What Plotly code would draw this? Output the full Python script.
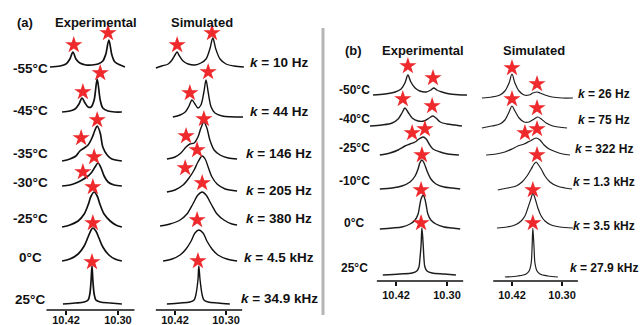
import plotly.graph_objects as go

FONT = "Liberation Sans, Arial, sans-serif"
W, H = 640, 325

# ---------------- data (chemical shift in ppm, intensity) ----------------
# Panel (a) experimental
a_temps = ["-55°C", "-45°C", "-35°C", "-30°C", "-25°C", "0°C", "25°C"]
a_rates = ["10 Hz", "44 Hz", "146 Hz", "205 Hz", "380 Hz", "4.5 kHz", "34.9 kHz"]

a_exp_ppm = [
    [10.457, 10.434, 10.420, 10.411, 10.404, 10.397, 10.388, 10.374, 10.360, 10.346, 10.335, 10.328, 10.321, 10.314, 10.307, 10.295, 10.284],
    [10.429, 10.411, 10.399, 10.390, 10.383, 10.376, 10.369, 10.362, 10.355, 10.348, 10.341, 10.335, 10.323, 10.307, 10.291],
    [10.429, 10.411, 10.397, 10.388, 10.378, 10.369, 10.360, 10.353, 10.348, 10.341, 10.335, 10.325, 10.314, 10.291],
    [10.429, 10.411, 10.397, 10.383, 10.372, 10.362, 10.353, 10.346, 10.339, 10.332, 10.323, 10.309, 10.291],
    [10.429, 10.411, 10.392, 10.378, 10.369, 10.362, 10.355, 10.348, 10.341, 10.332, 10.318, 10.305, 10.291],
    [10.429, 10.411, 10.392, 10.378, 10.369, 10.362, 10.358, 10.351, 10.344, 10.335, 10.321, 10.307, 10.291],
    [10.427, 10.399, 10.378, 10.369, 10.365, 10.362, 10.360, 10.358, 10.355, 10.351, 10.341, 10.318, 10.291],
]
a_exp_int = [
    [0, 1, 3, 8, 15, 8, 4, 2, 2, 3, 6, 13, 27, 12, 5, 2, 0],
    [0, 1, 3, 8, 14, 9, 5, 5, 12, 33, 12, 4, 1, 0, 0],
    [0, 2, 5, 10, 13, 16, 23, 31, 35, 28, 14, 6, 2, 0],
    [0, 1, 3, 6, 9, 13, 19, 23, 18, 10, 4, 1, 0],
    [0, 2, 6, 13, 22, 31, 35, 31, 22, 13, 6, 2, 0],
    [1, 3, 8, 16, 25, 32, 34, 31, 24, 15, 7, 3, 1],
    [0, 1, 2, 4, 10, 24, 38, 24, 10, 4, 2, 1, 0],
]
a_exp_star_ppm = [[10.402, 10.323], [10.381, 10.341], [10.385, 10.348], [10.381, 10.355], [10.358], [10.358], [10.360]]
a_exp_star_int = [[22, 34], [20, 39], [23, 41], [14, 29], [40], [39], [42]]

# Panel (a) simulated
a_sim_ppm = [
    [10.465, 10.451, 10.436, 10.427, 10.420, 10.415, 10.411, 10.401, 10.389, 10.373, 10.359, 10.347, 10.338, 10.331, 10.324, 10.314, 10.300, 10.281, 10.258],
    [10.425, 10.408, 10.396, 10.387, 10.380, 10.373, 10.366, 10.359, 10.352, 10.347, 10.342, 10.335, 10.326, 10.309, 10.260],
    [10.439, 10.420, 10.406, 10.394, 10.385, 10.375, 10.366, 10.359, 10.352, 10.345, 10.338, 10.328, 10.314, 10.295, 10.274],
    [10.439, 10.420, 10.401, 10.387, 10.375, 10.366, 10.356, 10.349, 10.342, 10.333, 10.321, 10.302, 10.274],
    [10.455, 10.432, 10.408, 10.392, 10.378, 10.366, 10.356, 10.347, 10.335, 10.321, 10.305, 10.286, 10.274],
    [10.448, 10.427, 10.408, 10.394, 10.382, 10.373, 10.364, 10.354, 10.345, 10.333, 10.319, 10.298, 10.274],
    [10.439, 10.408, 10.385, 10.375, 10.371, 10.366, 10.364, 10.361, 10.356, 10.352, 10.342, 10.319, 10.291],
]
a_sim_int = [
    [0, 2, 4, 8, 13, 16, 13, 7, 4, 3, 5, 9, 19, 30, 19, 9, 4, 2, 1],
    [0, 2, 5, 11, 17, 13, 9, 12, 25, 37, 25, 10, 4, 1, 0],
    [1, 3, 7, 13, 16, 17, 23, 32, 38, 32, 20, 10, 5, 2, 1],
    [0, 2, 7, 14, 22, 30, 36, 33, 25, 15, 8, 3, 1],
    [0, 2, 6, 12, 22, 31, 34, 31, 22, 12, 6, 2, 1],
    [1, 3, 7, 13, 21, 29, 32, 29, 21, 13, 7, 3, 1],
    [0, 1, 2, 4, 9, 24, 38, 24, 9, 4, 2, 1, 0],
]
a_sim_star_ppm = [[10.415, 10.333], [10.385, 10.342], [10.394, 10.352], [10.396, 10.368], [10.356], [10.368], [10.366]]
a_sim_star_int = [[23, 35], [24, 45], [24, 41], [24, 42], [43], [42], [43]]

# Panel (b) experimental
b_temps = ["-50°C", "-40°C", "-25°C", "-10°C", "0°C", "25°C"]
b_rates = ["26 Hz", "75 Hz", "322 Hz", "1.3 kHz", "3.5 kHz", "27.9 kHz"]

b_exp_ppm = [
    [10.474, 10.446, 10.422, 10.408, 10.399, 10.392, 10.385, 10.375, 10.364, 10.349, 10.338, 10.331, 10.324, 10.312, 10.293, 10.265, 10.253],
    [10.481, 10.453, 10.429, 10.415, 10.406, 10.399, 10.392, 10.382, 10.368, 10.354, 10.342, 10.333, 10.326, 10.316, 10.300, 10.281, 10.265],
    [10.458, 10.434, 10.415, 10.399, 10.387, 10.375, 10.366, 10.356, 10.349, 10.342, 10.333, 10.316, 10.298, 10.272],
    [10.458, 10.429, 10.406, 10.387, 10.375, 10.368, 10.364, 10.359, 10.354, 10.347, 10.338, 10.326, 10.307, 10.288, 10.269],
    [10.458, 10.429, 10.406, 10.387, 10.375, 10.368, 10.364, 10.361, 10.356, 10.352, 10.349, 10.345, 10.338, 10.326, 10.307, 10.288, 10.269],
    [10.451, 10.411, 10.382, 10.371, 10.366, 10.364, 10.361, 10.359, 10.356, 10.354, 10.352, 10.347, 10.335, 10.307, 10.279],
]
b_exp_int = [
    [0, 1, 3, 6, 12, 20, 13, 7, 4, 3, 5, 7, 5, 3, 1, 0, 0],
    [0, 1, 3, 7, 13, 18, 14, 8, 5, 5, 8, 10, 8, 4, 2, 1, 0],
    [0, 2, 5, 9, 11, 13, 16, 18, 16, 11, 6, 3, 1, 0],
    [0, 1, 3, 7, 13, 20, 26, 29, 26, 18, 10, 5, 2, 1, 0],
    [0, 1, 2, 5, 9, 15, 24, 30, 34, 30, 24, 15, 9, 5, 2, 1, 0],
    [0, 1, 2, 4, 8, 15, 30, 47, 30, 15, 8, 4, 2, 1, 0],
]
b_exp_star_ppm = [[10.392, 10.333], [10.404, 10.335], [10.382, 10.352], [10.359], [10.361], [10.361]]
b_exp_star_int = [[29, 17], [27, 20], [22, 26], [34], [39], [52]]

# Panel (b) simulated
b_sim_ppm = [
    [10.492, 10.468, 10.449, 10.437, 10.427, 10.420, 10.413, 10.403, 10.391, 10.379, 10.370, 10.360, 10.353, 10.341, 10.324, 10.300, 10.274],
    [10.492, 10.468, 10.449, 10.437, 10.427, 10.420, 10.413, 10.403, 10.391, 10.379, 10.367, 10.358, 10.350, 10.338, 10.322, 10.288],
    [10.482, 10.458, 10.437, 10.420, 10.406, 10.391, 10.377, 10.362, 10.353, 10.343, 10.331, 10.314, 10.298, 10.281],
    [10.454, 10.430, 10.410, 10.396, 10.384, 10.374, 10.367, 10.362, 10.358, 10.350, 10.341, 10.329, 10.312, 10.293, 10.276],
    [10.456, 10.432, 10.413, 10.398, 10.389, 10.382, 10.374, 10.370, 10.365, 10.358, 10.350, 10.341, 10.326, 10.305, 10.274],
    [10.437, 10.406, 10.386, 10.379, 10.374, 10.372, 10.370, 10.367, 10.365, 10.360, 10.353, 10.334, 10.310],
]
b_sim_int = [
    [1, 2, 4, 8, 16, 25, 16, 8, 4, 4, 6, 7, 6, 4, 2, 1, 1],
    [0, 2, 4, 8, 16, 22, 17, 10, 6, 6, 9, 11, 9, 5, 2, 0],
    [0, 1, 3, 6, 9, 11, 14, 17, 15, 10, 6, 3, 1, 0],
    [0, 2, 4, 8, 14, 21, 26, 28, 26, 21, 14, 8, 4, 2, 1],
    [1, 2, 4, 8, 13, 21, 31, 36, 31, 21, 13, 8, 4, 2, 1],
    [0, 1, 3, 6, 14, 28, 49, 28, 14, 6, 3, 1, 0],
]
b_sim_star_ppm = [[10.420, 10.360], [10.420, 10.360], [10.389, 10.360], [10.360], [10.370], [10.370]]
b_sim_star_int = [[31, 15], [29, 20], [22, 26], [35], [39], [54]]

tick_vals = [10.42, 10.30]
tick_text = ["10.42", "10.30"]

# ---------------- layout constants (pixel positions) ----------------
a_exp_base = [67, 112, 161, 186, 227, 262, 304]
a_sim_base = [68, 117, 160, 192, 226, 262, 304]
b_exp_base = [95, 126, 155, 189, 229, 275]
b_sim_base = [99, 128, 155, 190, 229, 277]

a_temp_y = [68, 110, 153, 182, 218, 257, 299]
a_rate_y = [62, 111, 153, 190, 218, 257, 298]
b_temp_y = [90, 119, 148, 181, 223, 268]
b_rate_y = [94, 120, 149, 182, 226, 268]

X_RANGE = [10.495, 10.245]
AXIS_SPAN = (10.465, 10.262)
STAR_COLOR = "#ee2a2d"

fig = go.Figure()

panels = [
    (a_exp_ppm, a_exp_int, a_exp_star_ppm, a_exp_star_int, a_exp_base, "", 310, 1.7, "#111111", -4),
    (a_sim_ppm, a_sim_int, a_sim_star_ppm, a_sim_star_int, a_sim_base, "2", 310, 1.4, "#111111", -4),
    (b_exp_ppm, b_exp_int, b_exp_star_ppm, b_exp_star_int, b_exp_base, "3", 281, 1.4, "#1e1e1e", 0),
    (b_sim_ppm, b_sim_int, b_sim_star_ppm, b_sim_star_int, b_sim_base, "4", 281, 1.2, "#1e1e1e", 0),
]

x_domains_px = [(33.5, 141.8), (143.1, 249.4), (364.1, 470.4), (480.7, 585.0)]

for (xs, ys, sx, sy, base, suf, bottom, lw, col, standoff), (d0, d1) in zip(panels, x_domains_px):
    xa, ya = "x" + suf, "y" + suf
    for px, iy, b in zip(xs, ys, base):
        off = H - b
        fig.add_trace(go.Scatter(
            x=px, y=[off + v for v in iy], mode="lines",
            line=dict(color=col, width=lw, shape="spline", smoothing=0.9),
            xaxis=xa, yaxis=ya, showlegend=False, hoverinfo="skip"))
    star_x, star_y = [], []
    for ppms, ints, b in zip(sx, sy, base):
        for p, v in zip(ppms, ints):
            star_x.append(p)
            star_y.append(H - b + v)
    fig.add_trace(go.Scatter(
        x=star_x, y=star_y, mode="markers",
        marker=dict(symbol="star", size=13, color=STAR_COLOR, line=dict(width=0)),
        xaxis=xa, yaxis=ya, showlegend=False, hoverinfo="skip", cliponaxis=False))

    key = "xaxis" + suf
    ykey = "yaxis" + suf
    fig.layout[key] = dict(
        domain=[d0 / W, d1 / W], range=X_RANGE, anchor=ya, automargin=False,
        tickvals=tick_vals, ticktext=["<b>%s</b>" % t for t in tick_text],
        ticks="outside", ticklen=4, tickwidth=1.5, tickcolor="#111111",
        ticklabelstandoff=standoff,
        tickfont=dict(family=FONT, size=11, color="#111111"),
        showgrid=False, zeroline=False, showline=False, fixedrange=True)
    fig.layout[ykey] = dict(
        domain=[(H - bottom) / H, 1], range=[H - bottom, H], anchor=xa,
        automargin=False, visible=False, fixedrange=True)
    fig.add_shape(type="line", xref=xa, yref=ya + " domain",
                  x0=AXIS_SPAN[0], x1=AXIS_SPAN[1], y0=0, y1=0,
                  line=dict(color="#111111", width=1.5))

ann = []


def label(text, x, y, size):
    ann.append(dict(text=text, x=x / W, y=1 - y / H, xref="paper", yref="paper",
                    xanchor="center", yanchor="middle", showarrow=False,
                    font=dict(family=FONT, size=size, color="#111111")))


label("<b>(a)</b>", 25, 22, 13)
label("<b>Experimental</b>", 96, 22, 13)
label("<b>Simulated</b>", 202, 22, 13)
label("<b>(b)</b>", 353, 50, 13)
label("<b>Experimental</b>", 423, 50, 13)
label("<b>Simulated</b>", 534, 50, 13)

for t, y in zip(a_temps, a_temp_y):
    label("<b>%s</b>" % t, 30, y, 13.5)
for r, y in zip(a_rates, a_rate_y):
    label("<b><i>k</i> = %s</b>" % r, 279, y, 13.5)
for t, y in zip(b_temps, b_temp_y):
    label("<b>%s</b>" % t, 354, y, 12)
for r, y in zip(b_rates, b_rate_y):
    label("<b><i>k</i> = %s</b>" % r, 604, y, 12)

fig.add_shape(type="line", xref="paper", yref="paper",
              x0=323 / W, x1=323 / W, y0=1 - 28 / H, y1=1 - 315 / H,
              line=dict(color="#b5b5b5", width=3))

fig.update_layout(
    width=W, height=H, margin=dict(l=0, r=0, t=0, b=0, autoexpand=False),
    paper_bgcolor="white", plot_bgcolor="white",
    annotations=ann, showlegend=False)

fig.write_html("out.html", config={"displayModeBar": False},
               post_script="document.body.style.margin='0px';")
